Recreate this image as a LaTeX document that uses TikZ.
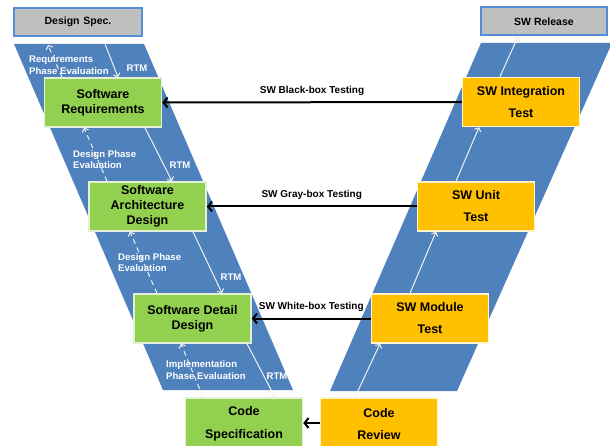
\documentclass[tikz,border=0pt]{standalone}
\usepackage{fontspec}
\setmainfont{Liberation Sans}
\usetikzlibrary{arrows.meta}

\definecolor{band}{HTML}{4F81BD}
\definecolor{greenbox}{HTML}{92D050}
\definecolor{orangebox}{HTML}{FFC000}
\definecolor{graybox}{HTML}{BFBFBF}
\definecolor{grayedge}{HTML}{558ED5}
\definecolor{greenedge}{HTML}{E4F0D6}
\definecolor{orangeedge}{HTML}{FFF3D0}
\definecolor{traceline}{HTML}{F2F2EC}

\tikzset{
  phasebox/.style={draw=greenedge, line width=1.5pt, fill=greenbox,
    minimum width=117pt, minimum height=49pt, inner sep=0pt, align=center,
    font=\bfseries\fontsize{12.5}{15}\selectfont},
  testbox/.style={phasebox, draw=orangeedge, fill=orangebox,
    font=\bfseries\fontsize{12.5}{22}\selectfont},
  endbox/.style={draw=grayedge, line width=2pt, fill=graybox,
    minimum width=128pt, minimum height=28pt, inner sep=0pt,
    font=\bfseries\fontsize{10.5}{12}\selectfont},
  vlink/.style={line width=2pt, -{Straight Barb[length=4pt,width=10pt]}},
  trace/.style={draw=traceline, line width=1pt, -{Straight Barb[length=3pt,width=7pt]}},
  evalarrow/.style={trace, dash pattern=on 5pt off 4pt},
  note/.style={text=white, inner sep=0pt, align=left,
    font=\bfseries\fontsize{9.6}{11.5}\selectfont},
  testlabel/.style={inner sep=0pt, font=\bfseries\fontsize{10}{12}\selectfont},
}

\begin{document}
\begin{tikzpicture}[x=1pt, y=-1pt]
\useasboundingbox (0,0) rectangle (610,446);

% the two slanted bands of the V
\fill[band] (14,44) -- (144,44) -- (293,390) -- (163,390) -- cycle;
\fill[band] (481,43) -- (612,43) -- (457,391) -- (330,391) -- cycle;

% end points at the top of the bands
\coordinate (reqtop) at (105,44);
\coordinate (reqeval) at (48,45);

% left branch: specification phases
\node[endbox]   (spec)  at (78,22)      {Design\hspace{0.35em}Spec.};
\node[phasebox] (req)   at (103,102.5)  {Software\\Requirements};
\node[phasebox] (arch)  at (147.5,206.5){Software\\Architecture\\Design};
\node[phasebox] (det)   at (192.5,318.5){Software Detail\\Design};
\node[phasebox, minimum height=52pt, font=\bfseries\fontsize{12.5}{23}\selectfont]
                (cs)    at (244,424)    {Code\\Specification};

% right branch: testing phases
\node[endbox, minimum width=126pt] (rel) at (544,21.5) {SW Release};
\node[testbox]  (integ) at (521,102)    {SW Integration\\Test};
\node[testbox]  (unit)  at (476,206.5)  {SW Unit\\Test};
\node[testbox]  (mod)   at (430,318.5)  {SW Module\\Test};
\node[testbox, minimum height=52pt] (cr) at (379,424) {Code\\Review};

% verification links across the V
\draw[vlink] (integ.west) -- node[above=6pt, testlabel]{SW Black-box Testing} (req.east);
\draw[vlink] (unit.west)  -- node[above=6pt, testlabel]{SW Gray-box Testing} (arch.east);
\draw[vlink] (mod.west)   -- node[above=6pt, testlabel]{SW White-box Testing} (det.east);
\draw[vlink] (cr.west |- 0,423) -- (cs.east |- 0,423);

% requirement traceability going down
\draw[trace] (reqtop) -- ([xshift=15pt]req.north);
\draw[trace] ([xshift=42pt]req.south) -- ([xshift=24.5pt]arch.north);
\draw[trace] ([xshift=45.5pt]arch.south) -- ([xshift=29.5pt]det.north);
\draw[trace] ([xshift=54.5pt]det.south) -- ([xshift=31pt]cs.north);

% phase evaluations going back up
\draw[evalarrow] ([xshift=-41pt]req.north) -- (reqeval);
\draw[evalarrow] ([xshift=-40.5pt]arch.north) -- ([xshift=-19pt]req.south);
\draw[evalarrow] ([xshift=-35.5pt]det.north) -- ([xshift=-17.5pt]arch.south);
\draw[evalarrow] ([xshift=-41pt]cs.north) -- ([xshift=-11.5pt]det.south);

% integration path going up the right band
\draw[trace] ([xshift=-24pt]cr.north) -- ([xshift=-50pt]mod.south);
\draw[trace] ([xshift=-20pt]mod.north) -- ([xshift=-40pt]unit.south);
\draw[trace] ([xshift=-20pt]unit.north) -- ([xshift=-42pt]integ.south);
\draw[trace] ([xshift=-21pt]integ.north) -- ([xshift=-26pt]rel.south);

% labels inside the left band
\node[note, anchor=west] (n1) at (29,65)    {Requirements\\Phase Evaluation};
\node[note]              (r1) at (137,68)   {RTM};
\node[note, anchor=west] (n2) at (73,159.5) {Design Phase\\Evaluation};
\node[note]              (r2) at (180,165)  {RTM};
\node[note, anchor=west] (n3) at (118,262.5){Design Phase\\Evaluation};
\node[note]              (r3) at (231,277)  {RTM};
\node[note, anchor=west] (n4) at (166,370)  {Implementation\\Phase Evaluation};
\node[note]              (r4) at (277,376)  {RTM};
\end{tikzpicture}
\end{document}
